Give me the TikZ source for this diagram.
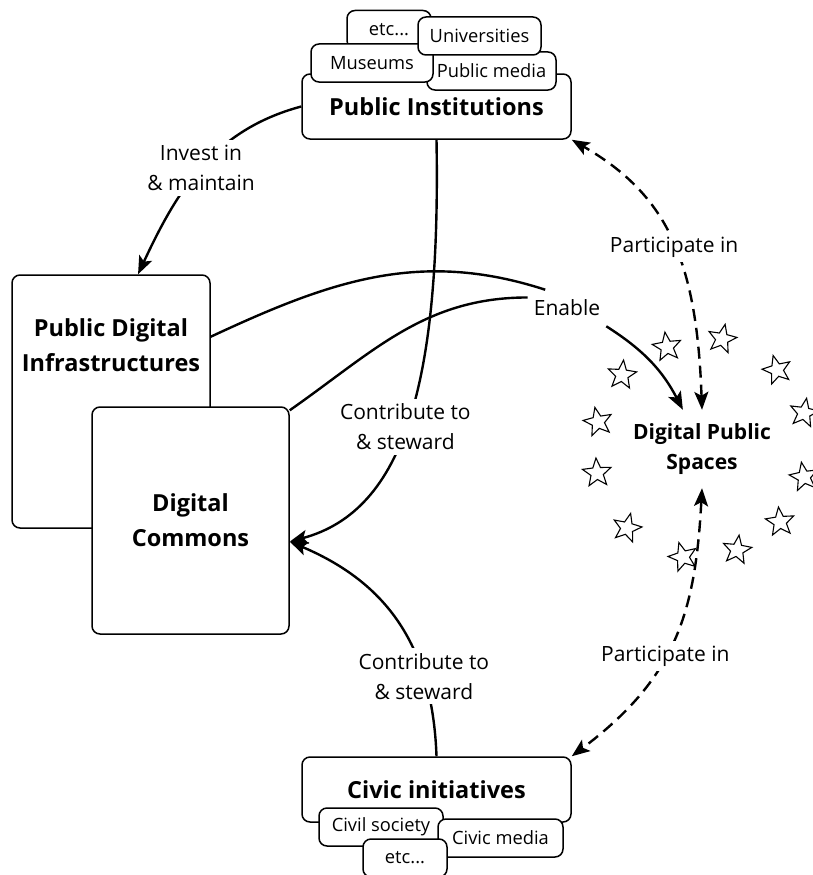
\documentclass[tikz,border=0pt]{standalone}
\usepackage{fontspec}
\setmainfont{Open Sans}
\usepackage{tikz}
\usetikzlibrary{
    arrows.meta,      % 箭头样式
    shapes.geometric, % 星形
    positioning       % 相对定位
}

\begin{document}
\begin{tikzpicture}[
    x=1pt, y=1pt,
    >={Stealth[length=18pt,width=14pt,inset=4pt]},
    panel/.style={draw, line width=1.5pt, rounded corners=8pt, fill=white, align=center},
    boxtitle/.style={font=\bfseries\fontsize{23.5}{35}\selectfont, align=center, inner sep=0pt},
    tagbox/.style={panel, minimum width=#1, minimum height=38pt, inner sep=0pt, font=\fontsize{18.3}{22}\selectfont},
    link/.style={line width=2.4pt},
    dashlink/.style={link, dash pattern=on 12pt off 7pt},
    lbl/.style={fill=white, align=center, inner sep=5pt, font=\fontsize{21}{30}\selectfont},
    starmark/.style={star, star points=5, star point ratio=2.3, minimum size=30pt, inner sep=0pt, draw, line width=1.1pt}
]
    \useasboundingbox (0,0) rectangle (812,-875);

    % 公共机构及其子项
    \node[panel, boxtitle, minimum width=269, minimum height=65] (pubinst) at (436.5,-106.5) {Public Institutions};
    \node[tagbox=84] (etctop) at (389,-29.5) {etc...};
    \node[tagbox=129] (pubmedia) at (491.5,-71) {Public media};
    \node[tagbox=122] (museums) at (372,-63) {Museums};
    \node[tagbox=123] (unis) at (479.5,-36) {Universities};

    % 左侧两个大框
    \node[panel, minimum width=198, minimum height=253] (pdi) at (111,-401.5) {};
    \node[boxtitle, below=44pt of pdi.north] (pditext) {Public Digital\\Infrastructures};
    \node[panel, boxtitle, minimum width=197, minimum height=227] (commons) at (190.5,-520.5) {Digital\\Commons};

    % 公民倡议及其子项
    \node[panel, boxtitle, minimum width=269, minimum height=65] (civic) at (436.5,-789.5) {Civic initiatives};
    \node[tagbox=124] (society) at (381,-827) {Civil society};
    \node[tagbox=125] (civmedia) at (500.5,-838) {Civic media};
    \node[tagbox=84] (etcbot) at (405,-858) {etc...};

    % 数字公共空间与周围的星星
    \node[minimum width=150, minimum height=78, align=center, font=\bfseries\fontsize{21}{30}\selectfont] (dps) at (702,-449) {Digital Public\\Spaces};
    \foreach \x/\y/\r [count=\i] in {667/347/8, 722/339/-12, 777/370/15, 622/375/-6, 598/422/12,
                                     804/413/-10, 597/473/4, 804/477/10, 627/528/-14, 780/522/6,
                                     683/557/16, 737/550/-8}
        \node[starmark, rotate=\r] (star\i) at (\x,-\y) {};

    % 连线
    \node[lbl, inner xsep=6pt, inner ysep=10pt] (enable) at (567,-308) {Enable};
    \draw[link, ->] (pubinst.west) to[out=195, in=65] node[lbl] (invest) {Invest in\\\& maintain} (pdi.78);
    \draw[link] (pdi.33) to[out=25, in=162] (enable.140);
    \draw[link] (commons.48) to[out=35, in=180] (enable.165);
    \draw[link, ->] (enable.south east) to[bend left=15] (dps.116);
    \draw[link, ->] (pubinst.south) to[out=-89, in=15, out distance=240pt, in distance=120pt]
        node[lbl, pos=.52] (contribup) {Contribute to\\\& steward} (commons.-12);
    \draw[link, ->] (civic.north) to[out=92, in=-23, out distance=117pt, in distance=99pt]
        node[lbl, pos=.26] (contribdown) {Contribute to\\\& steward} (commons.-12);
    \draw[dashlink, <->] (dps.north) to[out=92, in=-30, out distance=150pt, in distance=110pt]
        node[lbl, pos=.47] (partup) {Participate in} (pubinst.south east);
    \draw[dashlink, <->] (dps.south) to[out=-93, in=37, looseness=1.1] node[lbl, pos=.56] (partdown) {Participate in} (civic.north east);
\end{tikzpicture}
\end{document}
